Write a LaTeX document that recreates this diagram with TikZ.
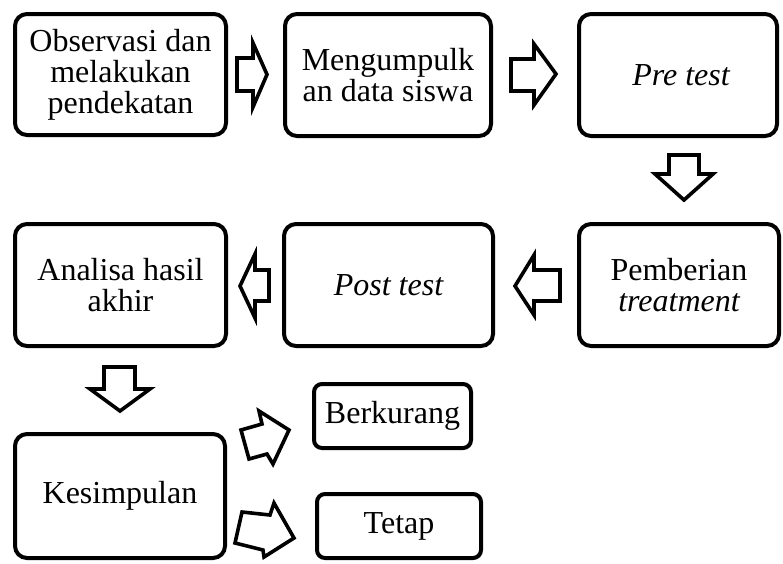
\documentclass[tikz,border=0pt]{standalone}
\usepackage{fontspec}
\setmainfont{Liberation Serif}
\begin{document}
\begin{tikzpicture}[x=1pt,y=-1pt,
  box/.style={draw=black, line width=4pt, rounded corners=12pt, fill=white,
    align=center, inner sep=0pt, font=\fontsize{32}{31}\selectfont},
  smallbox/.style={box, rounded corners=8pt},
  blockarrow/.style={draw=black, line width=3.6pt, line join=miter, miter limit=10, fill=white}]
\useasboundingbox (0,0) rectangle (783,563);
% boxes
\node[box, minimum width=211pt, minimum height=121pt] (obs) at (120.5,74.5) {Observasi dan\\melakukan\\pendekatan};
\node[box, minimum width=206pt, minimum height=122pt] (kum) at (388,75) {Mengumpulk\\an data siswa};
\node[box, minimum width=198pt, minimum height=122pt] (pre) at (678,75) {\hspace*{6pt}\itshape Pre test};
\node[box, minimum width=211pt, minimum height=122pt] (ana) at (120.5,285) {Analisa hasil\\akhir};
\node[box, minimum width=209pt, minimum height=122pt] (post) at (388.5,285) {\itshape Post test};
\node[box, minimum width=200pt, minimum height=122pt] (treat) at (679,285) {Pemberian\\\itshape treatment};
\node[box, minimum width=210pt, minimum height=124pt] (kes) at (120,496) {Kesimpulan};
\node[smallbox, minimum width=157pt, minimum height=64pt] (ber) at (392.5,416) {Berkurang};
\node[smallbox, minimum width=164pt, minimum height=64pt] (tet) at (399,526) {Tetap};
% block arrows
\draw[blockarrow] (237,58) -- (253,58) -- (253,43) -- (267,74.5) -- (253,107) -- (253,91) -- (237,91) -- cycle;
\draw[blockarrow] (511,59) -- (534,59) -- (534,44) -- (556,74) -- (534,105) -- (534,91) -- (511,91) -- cycle;
\draw[blockarrow] (669,155) -- (699,155) -- (699,174) -- (713,174) -- (684,200) -- (655,174) -- (669,174) -- cycle;
\draw[blockarrow] (560,270) -- (534,270) -- (534,255) -- (515,286) -- (534,315) -- (534,301) -- (560,301) -- cycle;
\draw[blockarrow] (269,270) -- (255,270) -- (255,254) -- (240,286) -- (255,318) -- (255,301) -- (269,301) -- cycle;
\draw[blockarrow] (104,367) -- (135,367) -- (135,389) -- (150,389) -- (120,411) -- (90,389) -- (104,389) -- cycle;
\draw[blockarrow] (241,430) -- (262,424) -- (259,411) -- (289,430) -- (273,464) -- (267,454) -- (249,459) -- cycle;
\draw[blockarrow] (242,512) -- (270,515) -- (274,503) -- (294,538) -- (264,557) -- (263,550) -- (235,543) -- cycle;
\end{tikzpicture}
\end{document}
